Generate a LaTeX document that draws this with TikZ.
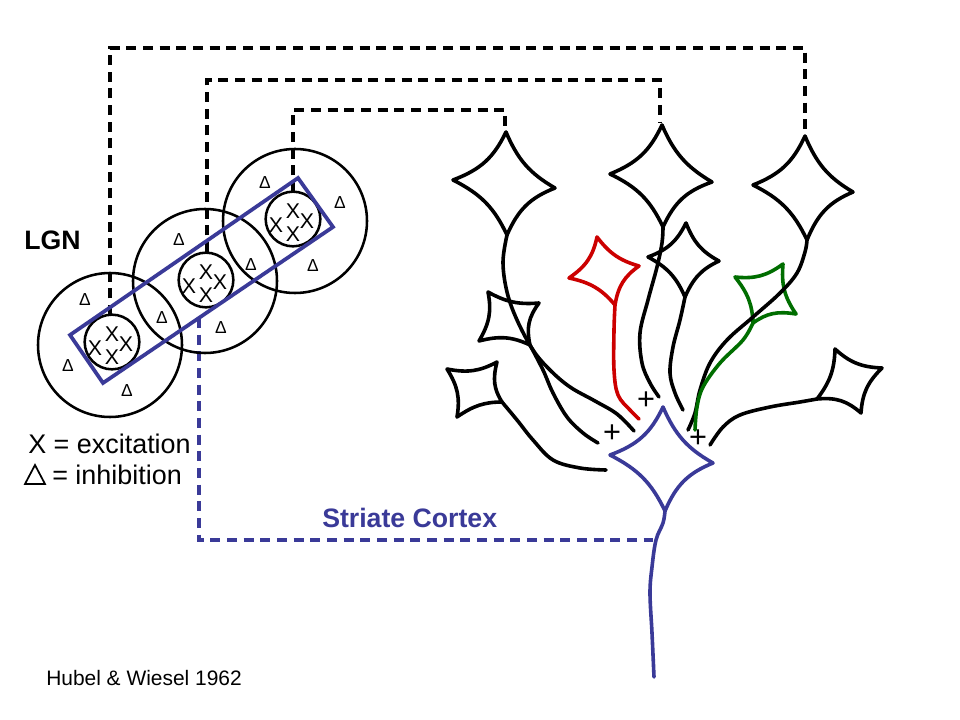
\documentclass[tikz,border=0pt]{standalone}
\usepackage{fontspec}
\setmainfont{Liberation Sans}
\usetikzlibrary{calc}
\definecolor{nblue}{RGB}{58,58,152}
\definecolor{nred}{RGB}{204,0,0}
\definecolor{ngreen}{RGB}{0,110,0}
\newcommand\somacell[5]{%
  \coordinate (cc) at ($(#2)!0.5!(#4)$);
  \draw[soma,#1] (#2)
    .. controls ($(#2)!0.33!(#3)!0.28!(cc)$) and ($(#3)!0.33!(#2)!0.28!(cc)$) .. (#3)
    .. controls ($(#3)!0.33!(#4)!0.28!(cc)$) and ($(#4)!0.33!(#3)!0.28!(cc)$) .. (#4)
    .. controls ($(#4)!0.33!(#5)!0.28!(cc)$) and ($(#5)!0.33!(#4)!0.28!(cc)$) .. (#5)
    .. controls ($(#5)!0.33!(#2)!0.28!(cc)$) and ($(#2)!0.33!(#5)!0.28!(cc)$) .. cycle;
}
\newcommand\xgroup[3]{%
  \node[xs] (#3t) at ($(#1,#2)+(0,-8)$) {X};
  \node[xs] (#3l) at ($(#1,#2)+(-17,6)$) {X};
  \node[xs] (#3r) at ($(#1,#2)+(14,2)$) {X};
  \node[xs] (#3b) at ($(#1,#2)+(0,15)$) {X};
}
\begin{document}
\begin{tikzpicture}[x=0.75pt,y=-0.75pt,
  soma/.style={line width=2.7pt, line join=round, line cap=round},
  axon/.style={line width=2.7pt, line cap=round},
  ring/.style={line width=1.9pt},
  wire/.style={line width=2.3pt, dash pattern=on 7.5pt off 5pt},
  tri/.style={font=\fontsize{13}{13}\selectfont, inner sep=0pt},
  xs/.style={font=\fontsize{16}{16}\selectfont, inner sep=0pt},
  plus/.style={font=\fontsize{23}{23}\selectfont, inner sep=0pt}]
\useasboundingbox (0,0) rectangle (960,720);
\fill[white] (0,0) rectangle (960,720);

% dashed projections
\draw[wire] (110,315) -- (110,48) -- (805,48) -- (805,134);
\draw[wire] (207,252) -- (207,80) -- (660,80) -- (660,123);
\draw[wire] (293,192) -- (293,110) -- (505,110) -- (505,130);
\draw[wire,nblue] (199,318) -- (199,540) -- (653,540);

% LGN cells
\draw[ring] (110,345) circle[radius=54pt];
\draw[ring] (205,281) circle[radius=54pt];
\draw[ring] (295,221) circle[radius=54pt];
\draw[ring] (112,342) circle[radius=20.5pt];
\draw[ring] (206,280) circle[radius=20.5pt];
\draw[ring] (293,219) circle[radius=20.5pt];
\draw[line width=2.8pt, nblue] (70,335) -- (298,178) -- (333,227) -- (103,383) -- cycle;

\xgroup{112}{342}{xa}
\xgroup{206}{280}{xb}
\xgroup{293}{219}{xc}

\node[tri] (t1) at (265,183) {Δ};
\node[tri] (t2) at (340,203) {Δ};
\node[tri] (t3) at (179,240) {Δ};
\node[tri] (t4) at (251,265) {Δ};
\node[tri] (t5) at (313,266) {Δ};
\node[tri] (t6) at (85,300) {Δ};
\node[tri] (t7) at (162,318) {Δ};
\node[tri] (t8) at (221,328) {Δ};
\node[tri] (t9) at (68,366) {Δ};
\node[tri] (t10) at (127,391) {Δ};

% labels
\node[anchor=base west, inner sep=0pt, font=\fontsize{20}{20}\selectfont\bfseries] (lgn) at (24,250) {LGN};
\node[anchor=base west, inner sep=0pt, font=\fontsize{20.2}{20.2}\selectfont] (exc) at (28,453) {X = excitation};
\draw[line width=1.3pt, line join=miter] (25,484) -- (35,465) -- (45,484) -- cycle;
\node[anchor=base west, inner sep=0pt, font=\fontsize{20.2}{20.2}\selectfont] (inh) at (52,484) {= inhibition};
\node[anchor=base west, inner sep=0pt, text=nblue, font=\fontsize{20}{20}\selectfont\bfseries] (sc) at (322,527) {Striate Cortex};
\node[anchor=base west, inner sep=0pt, font=\fontsize{15.7}{15.7}\selectfont] (cite) at (46,685) {Hubel \& Wiesel 1962};

% cortical neurons
\somacell{black}{506,132}{555,188}{507,235}{453,180}
\somacell{black}{662,125}{712,182}{663,227}{610,174}
\somacell{black}{805,136}{853,192}{807,240}{753,185}
\somacell{black}{488,292}{539,303}{530,345}{479,341}
\somacell{black}{497,362}{502,402}{457,417}{447,369}
\somacell{black}{686,223}{719,261}{685,297}{648,257}
\somacell{black}{835,349}{882,368}{861,413}{817,399}
\somacell{nred}{597,237}{639,266}{615,305}{569,278}
\somacell{ngreen}{735,277}{783,264}{796,314}{753,323}
\somacell{nblue}{663,407}{713,463}{665,511}{610,455}

% axons
\draw[axon] plot[smooth, tension=0.6] coordinates {(507,235) (503,262) (507,292) (517,320) (533,350) (550,370) (570,387) (595,401) (617,414) (634,431)};
\draw[axon] plot[smooth, tension=0.6] coordinates {(530,345) (543,370) (553,393) (567,417) (583,433) (598,443)};
\draw[axon] plot[smooth, tension=0.6] coordinates {(502,402) (517,420) (533,440) (553,460) (580,468) (606,470)};
\draw[axon] plot[smooth, tension=0.6] coordinates {(663,227) (662,243) (657,267) (648,300) (640,333) (642,363) (650,383) (659,397)};
\draw[axon] plot[smooth, tension=0.6] coordinates {(685,297) (680,320) (673,347) (670,373) (675,393) (683,410)};
\draw[axon] plot[smooth, tension=0.6] coordinates {(807,240) (805,252) (797,273) (780,293) (753,317) (727,340) (710,363) (700,390) (695,413) (688,430)};
\draw[axon] plot[smooth, tension=0.6] coordinates {(817,399) (800,402) (770,407) (740,415) (723,427) (710,445)};
\draw[axon,nred] plot[smooth, tension=0.6] coordinates {(615,305) (614,330) (614,370) (618,395) (630,410) (639,419)};
\draw[axon,ngreen] plot[smooth, tension=0.6] coordinates {(753,323) (743,340) (720,363) (703,387) (697,407) (695,430)};
\draw[axon,nblue] plot[smooth, tension=0.6] coordinates {(665,511) (663,523) (656,540) (652,567) (650,593) (652,633) (654,677)};

% synapse signs
\node[plus] (p1) at (646,401) {+};
\node[plus] (p2) at (612,434) {+};
\node[plus] (p3) at (698,439) {+};
\end{tikzpicture}
\end{document}
